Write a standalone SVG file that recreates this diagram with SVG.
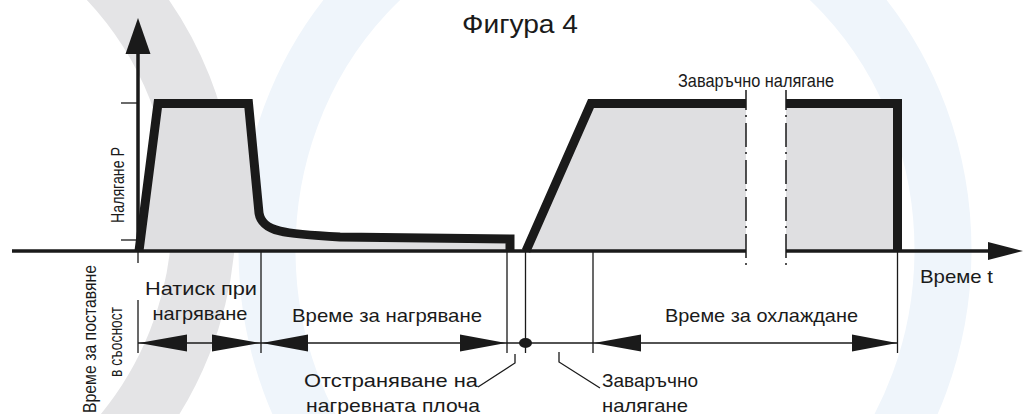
<svg xmlns="http://www.w3.org/2000/svg" width="1024" height="414" viewBox="0 0 1024 414">
<style>
text{font-family:"Liberation Sans",Arial,sans-serif;fill:#1a1a1a}
.t19{font-size:19px}
.thin{stroke:#1a1a1a;stroke-width:1.3;fill:none}
.curve{stroke:#1a1a1a;stroke-width:9;fill:none;stroke-linejoin:miter;stroke-linecap:butt}
.fill{fill:#dfdfe1;stroke:none}
.axis{stroke:#1a1a1a;stroke-width:3.5;fill:none}
.dd{stroke:#1a1a1a;stroke-width:1.5;fill:none;stroke-dasharray:24 5 2 6;stroke-dashoffset:4}
.ah{fill:#1a1a1a}
</style>
<rect width="1024" height="414" fill="#ffffff"/>
<g id="watermark">
<circle cx="-142" cy="215" r="346" fill="none" stroke="#e4e4e6" stroke-width="64"/>
<ellipse cx="605" cy="250" rx="338" ry="362" fill="none" stroke="#eff5fb" stroke-width="57"/>
</g>
<g id="pressure-fill">
<path class="fill" d="M138,251 L158,103.5 L248.5,103.5 L259,213 C262,232 285,234 340,237 L510,239 L510,251 Z"/>
<path class="fill" d="M526,251 L591,103.5 L746,103.5 L746,251 Z"/>
<path class="fill" d="M786,103.5 L897,103.5 L897,251 L786,251 Z"/>
</g>
<g id="axes">
<line class="axis" x1="138" y1="251" x2="138" y2="50"/>
<polygon class="ah" points="138,18 125.5,54 150.5,54"/>
<line class="axis" x1="12" y1="251" x2="746" y2="251"/>
<line class="axis" x1="786" y1="251" x2="992" y2="251"/>
<polygon class="ah" points="1023,251 988,242 988,260"/>
<line class="thin" x1="121" y1="103" x2="138" y2="103"/>
<line class="thin" x1="121" y1="240" x2="138" y2="240"/>
</g>
<g id="pressure-curve">
<path class="curve" d="M139,251 L158,103.5 L248.5,103.5 L259,213 C262,232 285,234 340,237 L510,239 L510,251"/>
<path class="curve" d="M526,251 L591,103.5 L746,103.5"/>
<path class="curve" d="M786,103.5 L897.5,103.5 L897.5,251"/>
</g>
<g id="connectors">
<path class="dd" d="M746,90 V267"/>
<path class="dd" d="M786,90 V267"/>
<path class="thin" d="M138,251 V263 M138,300 V353 M261,251 V353 M507,251 V353 M525.5,251 V353 M593,251 V353 M897.5,251 V353"/>
<line class="thin" x1="138" y1="343" x2="897" y2="343"/>
<polygon class="ah" points="139,343 187,334.5 187,351.5"/>
<polygon class="ah" points="260,343 212,334.5 212,351.5"/>
<polygon class="ah" points="262,343 308,334.5 308,351.5"/>
<polygon class="ah" points="506,343 460,334.5 460,351.5"/>
<polygon class="ah" points="594,343 641,334.5 641,351.5"/>
<polygon class="ah" points="897,343 852,334.5 852,351.5"/>
<ellipse class="ah" cx="525.5" cy="343" rx="6.5" ry="5"/>
<path class="thin" d="M515,354 V363 L478,387"/>
<path class="thin" d="M559,352 V362 L600,388"/>
</g>
<g id="labels">
<text x="520" y="33" font-size="25" text-anchor="middle" textLength="116" lengthAdjust="spacingAndGlyphs">Фигура 4</text>
<text x="678" y="87" font-size="19" textLength="156" lengthAdjust="spacingAndGlyphs">Заваръчно налягане</text>
<text transform="translate(124,185) rotate(-90)" font-size="19" text-anchor="middle" textLength="76" lengthAdjust="spacingAndGlyphs">Налягане Р</text>
<text class="t19" x="920" y="283" textLength="73" lengthAdjust="spacingAndGlyphs">Време t</text>
<text class="t19" x="201" y="295" text-anchor="middle" textLength="112" lengthAdjust="spacingAndGlyphs">Натиск при</text>
<text class="t19" x="200" y="320" text-anchor="middle" textLength="95" lengthAdjust="spacingAndGlyphs">нагряване</text>
<text class="t19" x="387" y="322" text-anchor="middle" textLength="190" lengthAdjust="spacingAndGlyphs">Време за нагряване</text>
<text class="t19" x="761.5" y="322" text-anchor="middle" textLength="193" lengthAdjust="spacingAndGlyphs">Време за охлаждане</text>
<text class="t19" x="304" y="387" textLength="174" lengthAdjust="spacingAndGlyphs">Отстраняване на</text>
<text class="t19" x="306" y="412" textLength="174" lengthAdjust="spacingAndGlyphs">нагревната плоча</text>
<text class="t19" x="602" y="387" textLength="96" lengthAdjust="spacingAndGlyphs">Заваръчно</text>
<text class="t19" x="602" y="412" textLength="86" lengthAdjust="spacingAndGlyphs">налягане</text>
<text class="t19" transform="translate(96,339) rotate(-90)" text-anchor="middle" textLength="148" lengthAdjust="spacingAndGlyphs">Време за поставяне</text>
<text class="t19" transform="translate(122,342) rotate(-90)" text-anchor="middle" textLength="70" lengthAdjust="spacingAndGlyphs">в съосност</text>
</g>
</svg>
